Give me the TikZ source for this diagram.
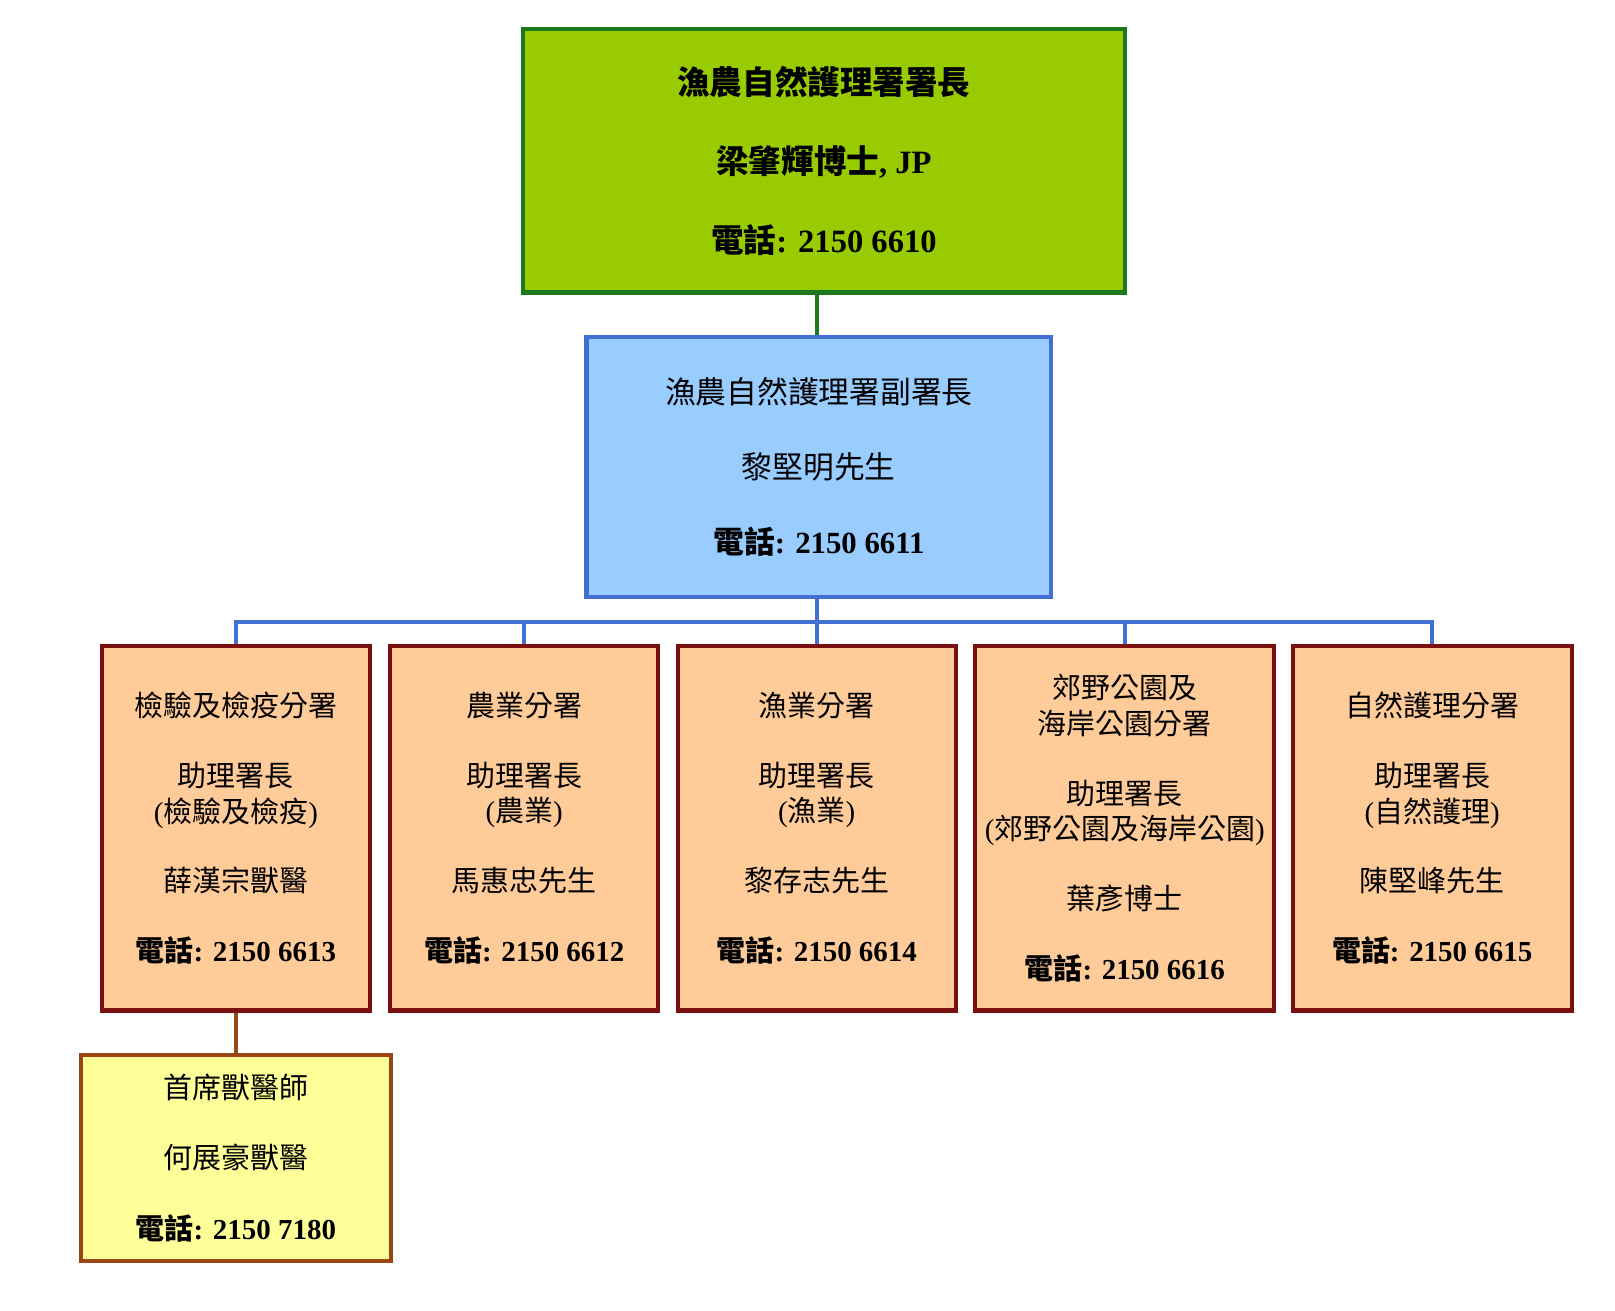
\documentclass[tikz,border=0pt]{standalone}
\usepackage{fontspec}
\setmainfont{Noto Sans CJK TC}
\newfontfamily\tms{Liberation Serif}
\usepackage{xcolor}
\usepackage{tikz}
\usetikzlibrary{positioning}
\definecolor{dirfill}{RGB}{153,204,0}
\definecolor{dirline}{RGB}{28,120,28}
\definecolor{depfill}{RGB}{153,204,255}
\definecolor{depline}{RGB}{66,112,210}
\definecolor{divfill}{RGB}{255,204,153}
\definecolor{divline}{RGB}{122,16,16}
\definecolor{vetfill}{RGB}{255,255,153}
\definecolor{vetline}{RGB}{153,70,20}
\tikzstyle{box} = [draw,line width=2.3pt,align=center,inner sep=0pt]
\tikzstyle{dirbox} = [box,draw=dirline,fill=dirfill,minimum width=584*0.02cm,minimum height=256*0.02cm,font=\fontsize{18}{43.7}\selectfont\bfseries]
\tikzstyle{depbox} = [box,draw=depline,fill=depfill,minimum width=451*0.02cm,minimum height=253*0.02cm,font=\fontsize{17}{41.4}\selectfont]
\tikzstyle{divbox} = [box,draw=divline,fill=divfill,minimum height=354*0.02cm,font=\fontsize{16}{19.8}\selectfont]
\tikzstyle{vetbox} = [box,draw=vetline,fill=vetfill,minimum width=301*0.02cm,minimum height=200*0.02cm,font=\fontsize{16}{39}\selectfont]
\tikzstyle{link} = [line width=2.3pt]
\newcommand{\tel}[1]{\textbf{電話{\tms: #1}}}
\newcommand{\pn}[1]{{\tms(}#1{\tms)}}
\newcommand{\gap}{\\[18.7pt]}

\begin{document}
\begin{tikzpicture}[x=0.02cm,y=-0.02cm]
            \useasboundingbox (0,0) rectangle (1568,1272);
            % director and deputy
            \node[dirbox] (dir) at (800,156) {漁農自然護理署署長\\梁肇輝博士{\tms, JP}\\\tel{2150 6610}};
            \node[depbox] (dep) at (795,453.5) {漁農自然護理署副署長\\黎堅明先生\\\tel{2150 6611}};
            % branches
            \node[divbox,minimum width=260*0.02cm] (insp) at (229,804) {檢驗及檢疫分署\gap 助理署長\\\pn{檢驗及檢疫}\gap 薛漢宗獸醫\gap \tel{2150 6613}};
            \node[divbox,minimum width=260*0.02cm] (agri) at (509,804) {農業分署\gap 助理署長\\\pn{農業}\gap 馬惠忠先生\gap \tel{2150 6612}};
            \node[divbox,minimum width=270*0.02cm] (fish) at (793,804) {漁業分署\gap 助理署長\\\pn{漁業}\gap 黎存志先生\gap \tel{2150 6614}};
            \node[divbox,minimum width=290*0.02cm] (park) at (1092,804) {郊野公園及\\海岸公園分署\gap 助理署長\\\pn{郊野公園及海岸公園}\gap 葉彥博士\gap \tel{2150 6616}};
            \node[divbox,minimum width=271*0.02cm] (cons) at (1390.5,804) {自然護理分署\gap 助理署長\\\pn{自然護理}\gap 陳堅峰先生\gap \tel{2150 6615}};
            \node[vetbox] (vet) at (229,1124) {首席獸醫師\\何展豪獸醫\\\tel{2150 7180}};
            \coordinate (bus) at (793,604);
            % connectors
            \draw[link,dirline] (bus |- dep.north) -- (bus |- dir.south);
            \draw[link,depline] (bus |- dep.south) -- (bus);
            \draw[link,depline] (insp.north) -- (insp.north |- bus) -- (cons.north |- bus) -- (cons.north);
            \foreach \n in {agri,fish,park}
                \draw[link,depline] (\n.north) -- (\n.north |- bus);
            \draw[link,vetline] (insp.south) -- (vet.north);
        \end{tikzpicture}
\end{document}
